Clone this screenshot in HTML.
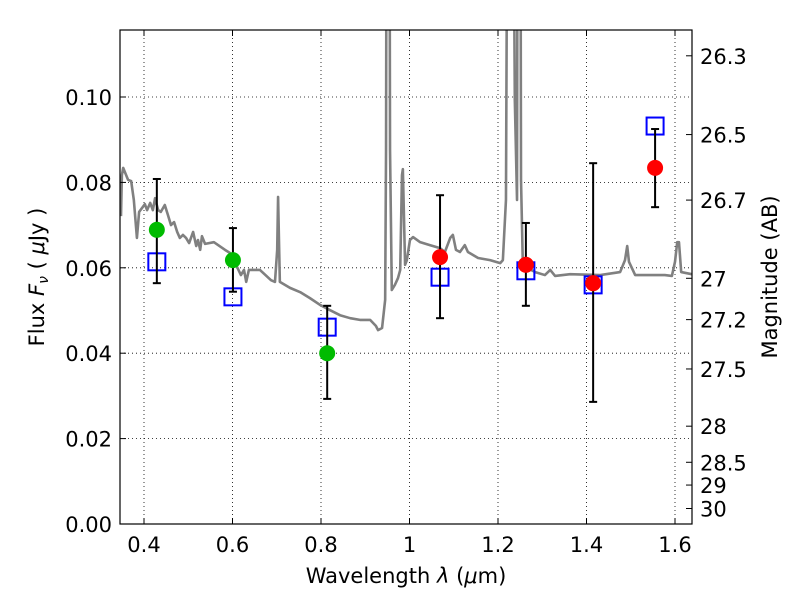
<!DOCTYPE html>
<html><head><meta charset="utf-8"><style>
body{margin:0;background:#fff}
svg text{font-family:"DejaVu Sans","Liberation Sans",sans-serif;font-size:21px;fill:#000}
</style></head><body>
<svg id="chart" width="800" height="600" xmlns="http://www.w3.org/2000/svg">
<defs><clipPath id="clip"><rect x="120" y="30" width="572" height="494"/></clipPath></defs>
<g id="grid"></g>
<g id="spec" clip-path="url(#clip)"></g>
<g id="marks"></g>
<rect x="120" y="30" width="572" height="494" fill="none" stroke="#000" stroke-width="1.2"/>
<g id="axes"></g>
<text x="406" y="583" text-anchor="middle">Wavelength  <tspan font-style="italic">λ</tspan> (<tspan font-style="italic">μ</tspan>m)</text>
<text transform="translate(44,277) rotate(-90)" text-anchor="middle">Flux  <tspan font-style="italic">F<tspan font-size="14" dy="4">ν</tspan></tspan><tspan dy="-4">  ( </tspan><tspan font-style="italic">μ</tspan>Jy )</text>
<text transform="translate(777,277) rotate(-90)" text-anchor="middle">Magnitude (AB)</text>
</svg>
<script>
const specWl=[0.348,0.350,0.353,0.364,0.371,0.377,0.384,0.389,0.402,0.407,0.414,0.420,0.425,0.432,0.438,0.447,0.454,0.461,0.468,0.475,0.481,0.488,0.495,0.502,0.511,0.518,0.522,0.527,0.531,0.538,0.558,0.583,0.594,0.601,0.608,0.619,0.626,0.631,0.637,0.662,0.687,0.696,0.701,0.703,0.707,0.730,0.753,0.775,0.798,0.820,0.843,0.866,0.888,0.911,0.924,0.929,0.938,0.945,0.947,0.949,0.954,0.956,0.960,0.967,0.974,0.979,0.983,0.985,0.990,0.994,1.001,1.008,1.024,1.046,1.069,1.080,1.092,1.098,1.105,1.114,1.125,1.132,1.155,1.182,1.205,1.211,1.218,1.223,1.232,1.238,1.243,1.245,1.250,1.252,1.256,1.266,1.284,1.306,1.318,1.329,1.363,1.431,1.476,1.487,1.492,1.496,1.510,1.577,1.593,1.600,1.605,1.609,1.614,1.638];
const specFlux=[0.0721,0.0817,0.0834,0.0806,0.0803,0.0759,0.0670,0.0731,0.0749,0.0735,0.0752,0.0735,0.0763,0.0735,0.0731,0.0747,0.0724,0.0700,0.0707,0.0684,0.0670,0.0677,0.0670,0.0658,0.0684,0.0651,0.0665,0.0642,0.0674,0.0656,0.0660,0.0642,0.0635,0.0621,0.0607,0.0583,0.0595,0.0567,0.0595,0.0595,0.0571,0.0567,0.0642,0.0766,0.0567,0.0553,0.0543,0.0529,0.0513,0.0501,0.0489,0.0482,0.0478,0.0478,0.0464,0.0454,0.0459,0.0525,0.0876,0.2,0.2,0.0876,0.0548,0.0560,0.0576,0.0595,0.0817,0.0831,0.0607,0.0618,0.0665,0.0672,0.0660,0.0653,0.0646,0.0637,0.0670,0.0677,0.0642,0.0637,0.0653,0.0637,0.0623,0.0618,0.0611,0.0618,0.0759,0.2,0.2,0.0993,0.0759,0.2,0.2,0.0806,0.0614,0.0600,0.0590,0.0583,0.0595,0.0581,0.0585,0.0583,0.0590,0.0618,0.0651,0.0614,0.0583,0.0583,0.0581,0.0614,0.0660,0.0660,0.0590,0.0585];
const greenWl=[0.429,0.601,0.814];
const greenFlux=[0.0689,0.0618,0.0400];
const greenErrHi=[0.0808,0.0693,0.0511];
const greenErrLo=[0.0564,0.0544,0.0293];
const redWl=[1.069,1.263,1.415,1.555];
const redFlux=[0.0625,0.0607,0.0564,0.0834];
const redErrHi=[0.0770,0.0705,0.0845,0.0925];
const redErrLo=[0.0482,0.0511,0.0286,0.0742];
const modelWl=[0.429,0.601,0.814,1.069,1.263,1.415,1.555];
const modelFlux=[0.0614,0.0532,0.0461,0.0578,0.0593,0.0560,0.0932];
const xTicks=[0.4,0.6,0.8,1.0,1.2,1.4,1.6];
const xTickLabels=["0.4","0.6","0.8","1","1.2","1.4","1.6"];
const yTicks=[0,0.02,0.04,0.06,0.08,0.10];
const yTickLabels=["0.00","0.02","0.04","0.06","0.08","0.10"];
const magTicks=[26.3,26.5,26.7,27,27.2,27.5,28,28.5,29,30];
const magTickLabels=["26.3","26.5","26.7","27","27.2","27.5","28","28.5","29","30"];

const NS="http://www.w3.org/2000/svg";
const X=w=>144+(w-0.4)*442.5;
const Y=f=>524-f*4270;
const magToFlux=m=>Math.pow(10,(23.9-m)/2.5);
function mk(tag,attrs,parent){const e=document.createElementNS(NS,tag);for(const k in attrs)e.setAttribute(k,attrs[k]);parent.appendChild(e);return e;}
const grid=document.getElementById('grid'),axes=document.getElementById('axes'),spec=document.getElementById('spec'),marks=document.getElementById('marks');
xTicks.forEach((t,i)=>{
  const g=mk('line',{x1:X(t),x2:X(t),y1:30,y2:524,stroke:'#000','stroke-dasharray':'1,3','stroke-width':0.8},grid);
  
  
  mk('line',{x1:X(t),x2:X(t),y1:524,y2:518,stroke:'#000'},axes);
  mk('line',{x1:X(t),x2:X(t),y1:30,y2:36,stroke:'#000'},axes);
  const tx=mk('text',{x:X(t),y:552,'text-anchor':'middle'},axes);tx.textContent=xTickLabels[i];
  
  
});
yTicks.forEach((t,i)=>{
  const g=mk('line',{x1:120,x2:692,y1:Y(t),y2:Y(t),stroke:'#000','stroke-dasharray':'1,3','stroke-width':0.8},grid);
  
  
  mk('line',{x1:120,x2:126,y1:Y(t),y2:Y(t),stroke:'#000'},axes);
  const tx=mk('text',{x:112,y:Y(t)+8,'text-anchor':'end'},axes);tx.textContent=yTickLabels[i];
  
  
});
magTicks.forEach((m,i)=>{
  const y=Y(magToFlux(m));
  mk('line',{x1:686,x2:692,y1:y,y2:y,stroke:'#000'},axes);
  const tx=mk('text',{x:700,y:y+8},axes);tx.textContent=magTickLabels[i];
  
  
});
const p=mk('polyline',{points:specWl.map((w,i)=>X(w)+','+Y(specFlux[i])).join(' '),fill:'none',stroke:'#808080','stroke-width':2.6,'stroke-linejoin':'round'},spec);


function errbar(w,lo,hi){
  const x=X(w);
  mk('line',{x1:x,x2:x,y1:Y(hi),y2:Y(lo),stroke:'#000','stroke-width':2},marks);
  mk('line',{x1:x-4,x2:x+4,y1:Y(hi),y2:Y(hi),stroke:'#000','stroke-width':2},marks);
  mk('line',{x1:x-4,x2:x+4,y1:Y(lo),y2:Y(lo),stroke:'#000','stroke-width':2},marks);
}
modelWl.forEach((w,i)=>{
  const r=mk('rect',{x:X(w)-8.5,y:Y(modelFlux[i])-8.5,width:17,height:17,fill:'none',stroke:'#0000ff','stroke-width':2},marks);
  
  
});
greenWl.forEach((w,i)=>{
  errbar(w,greenErrLo[i],greenErrHi[i]);
  const c=mk('circle',{cx:X(w),cy:Y(greenFlux[i]),r:8,fill:'#00bb00'},marks);
  
  
});
redWl.forEach((w,i)=>{
  errbar(w,redErrLo[i],redErrHi[i]);
  const c=mk('circle',{cx:X(w),cy:Y(redFlux[i]),r:8,fill:'#ff0000'},marks);
  
  
});
</script>
</body></html>
